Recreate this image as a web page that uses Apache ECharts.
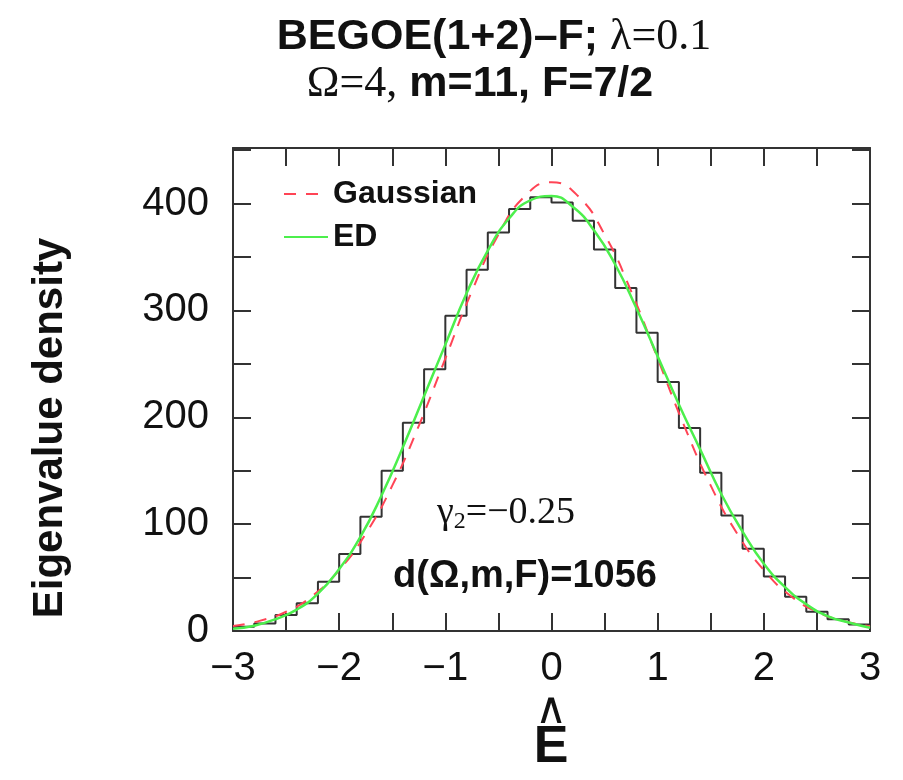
<!DOCTYPE html>
<html>
<head>
<meta charset="utf-8">
<script src="https://cdn.jsdelivr.net/npm/echarts@6/dist/echarts.min.js"></script>
<style>
html,body{margin:0;padding:0;background:#fff;}
#chart{width:903px;height:780px;}
</style>
</head>
<body>
<div id="chart"></div>
<script>
// Histogram: left edges of bins (width 0.2) and counts
const binEdges = [-3.0,-2.8,-2.6,-2.4,-2.2,-2.0,-1.8,-1.6,-1.4,-1.2,-1.0,-0.8,-0.6,-0.4,-0.2,
                  0.0,0.2,0.4,0.6,0.8,1.0,1.2,1.4,1.6,1.8,2.0,2.2,2.4,2.6,2.8];
const binEnd = 3.0;
const histCounts = [4,7,15,26,46,72,107,150,195,245,295,338,373,395,406,
                    401,384,357,321,279,233,190,148,108,77,51,32,18,11,6];
// Gaussian (red dashed)
const gaussX = [-3,-2.75,-2.5,-2.25,-2,-1.75,-1.5,-1.25,-1,-0.75,-0.5,-0.25,0,
                0.25,0.5,0.75,1,1.25,1.5,1.75,2,2.25,2.5,2.75,3];
const gaussY = [4.6,9.5,18,33,57,91,136,192,255,318,371,407,420,
                407,371,318,255,192,136,91,57,33,18,9.5,4.6];
// ED (green)
const edX = [-3,-2.8,-2.6,-2.4,-2.2,-2,-1.8,-1.6,-1.4,-1.2,-1,-0.8,-0.6,-0.4,-0.2,0,
             0.2,0.4,0.6,0.8,1,1.2,1.4,1.6,1.8,2,2.2,2.4,2.6,2.8,3];
const edY = [2,5,11,20,35,58,88,127,172,220,268,316,356,386,403,407,
             397,375,343,302,257,212,170,128,93,63,41,25,14,8,3];
// Axis ticks
const xTicks = [-3,-2,-1,0,1,2,3];
const yTicks = [0,100,200,300,400];

const histData = binEdges.map((e,i)=>[e,histCounts[i]]);
histData.push([binEnd, histCounts[histCounts.length-1]]);
const gaussData = gaussX.map((x,i)=>[x,gaussY[i]]);
const edData = edX.map((x,i)=>[x,edY[i]]);

const SANS = '"Liberation Sans", Arial, Helvetica, sans-serif';
const SERIF = '"Liberation Serif", "Times New Roman", serif';
const fmtMinus = v => String(v).replace('-', '\u2212');

const tickStyle = {show:true, inside:true, length:18, lineStyle:{color:'#333', width:2}};
const baseX = {
  type:'value', min:-3, max:3, interval:0.5,
  axisLine:{show:true, onZero:false, lineStyle:{color:'#333', width:2}},
  axisTick:tickStyle, splitLine:{show:false}
};
const baseY = {
  type:'value', min:0, max:452, interval:50,
  axisLine:{show:true, onZero:false, lineStyle:{color:'#333', width:2}},
  axisTick:tickStyle, splitLine:{show:false}
};

const chart = echarts.init(document.getElementById('chart'), null, {renderer:'canvas'});
chart.setOption({
  animation:false,
  backgroundColor:'#fff',
  grid:{left:233, right:33, top:148, bottom:149, show:false},
  xAxis:[
    Object.assign({}, baseX, {position:'bottom',
      axisLabel:{show:true, margin:18, color:'#111', fontFamily:SANS, fontSize:40,
        formatter:v => xTicks.includes(v) ? fmtMinus(v) : '' , showMinLabel:true, showMaxLabel:true}}),
    Object.assign({}, baseX, {position:'top', axisLabel:{show:false}})
  ],
  yAxis:[
    Object.assign({}, baseY, {position:'left',
      axisLabel:{show:true, margin:24, color:'#111', fontFamily:SANS, fontSize:40,
        formatter:v => yTicks.includes(v) ? String(v) : '', showMaxLabel:false}}),
    Object.assign({}, baseY, {position:'right', axisLabel:{show:false}})
  ],
  legend:{
    orient:'vertical', left:278, top:172, itemWidth:44, itemHeight:20, itemGap:9,
    itemStyle:{opacity:0},
    data:['Gaussian','ED'],
    textStyle:{fontFamily:SANS, fontWeight:'bold', fontSize:32, color:'#111', lineHeight:34}
  },
  series:[
    {name:'hist', type:'line', step:'end', data:histData, symbol:'none',
     lineStyle:{color:'#333', width:2}, z:2},
    {name:'Gaussian', type:'line', smooth:true, data:gaussData, symbol:'none',
     itemStyle:{color:'#ff4455'},
     lineStyle:{color:'#ff4455', width:2, type:[12,10]}, z:3},
    {name:'ED', type:'line', smooth:true, data:edData, symbol:'none',
     itemStyle:{color:'#4cef4c'},
     lineStyle:{color:'#4cef4c', width:2.5}, z:4}
  ],
  graphic:[
    {type:'text', x:494, y:37, style:{
      text:'{b|BEGOE(1+2)\u2013F; }{s|\u03bb=0.1}', textAlign:'center', textVerticalAlign:'middle',
      rich:{b:{fontFamily:SANS, fontWeight:'bold', fontSize:43, fill:'#111'},
            s:{fontFamily:SERIF, fontSize:44, fill:'#111'}}}},
    {type:'text', x:480, y:84, style:{
      text:'{s|\u03a9=4,}{b| m=11, F=7/2}', textAlign:'center', textVerticalAlign:'middle',
      rich:{b:{fontFamily:SANS, fontWeight:'bold', fontSize:43, fill:'#111'},
            s:{fontFamily:SERIF, fontSize:44, fill:'#111'}}}},
    {type:'text', x:506, y:513, style:{
      text:'{g|\u03b3}{sub|2}{g|=\u22120.25}', textAlign:'center', textVerticalAlign:'middle',
      rich:{g:{fontFamily:SERIF, fontSize:38, fill:'#111'},
            sub:{fontFamily:SERIF, fontSize:24, fill:'#111', padding:[18,0,0,0]}}}},
    {type:'text', x:525, y:577, style:{
      text:'d(\u03a9,m,F)=1056', textAlign:'center', textVerticalAlign:'middle',
      font:'bold 38px ' + SANS, fill:'#111'}},
    {type:'text', x:50, y:428, rotation:Math.PI/2, style:{
      text:'Eigenvalue density', textAlign:'center', textVerticalAlign:'middle',
      font:'bold 42px ' + SANS, fill:'#111'}},
    {type:'text', x:551, y:712, style:{
      text:'\u2227', textAlign:'center', textVerticalAlign:'middle',
      font:'44px "DejaVu Sans", sans-serif', fill:'#111'}},
    {type:'text', x:551, y:748, style:{
      text:'E', textAlign:'center', textVerticalAlign:'middle',
      font:'bold 52px ' + SANS, fill:'#111'}}
  ]
});
</script>
</body>
</html>
